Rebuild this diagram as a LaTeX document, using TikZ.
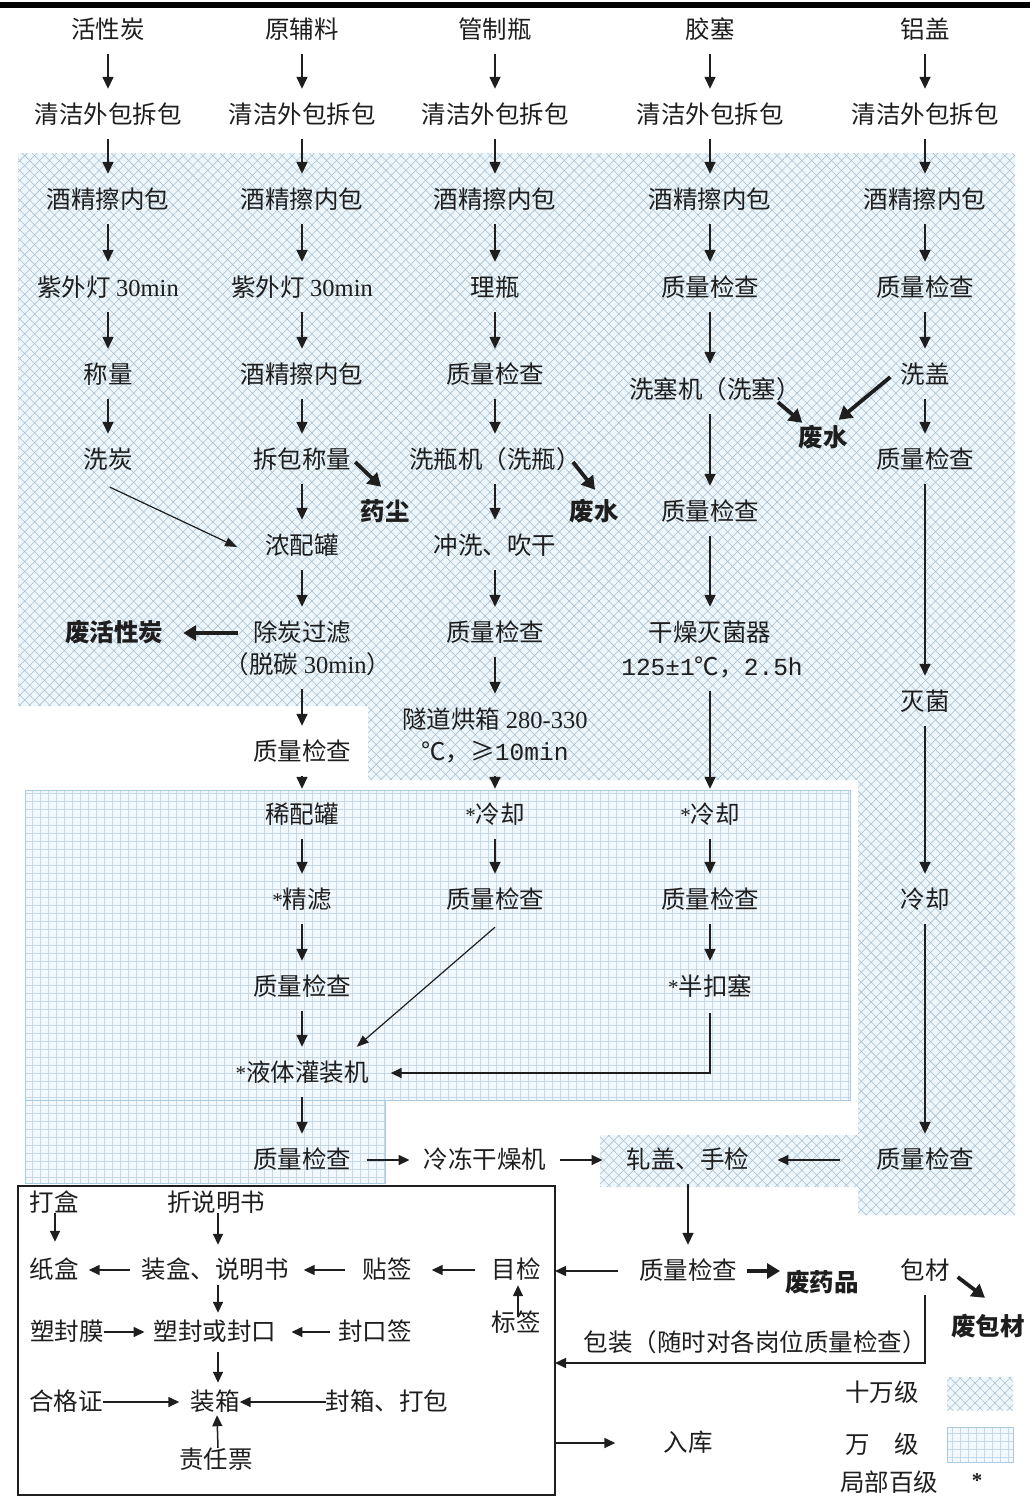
\documentclass[tikz,border=0pt]{standalone}
\usepackage{fontspec}
\setmainfont{Noto Sans CJK SC}
\newfontfamily\tnr{Liberation Serif}
\newfontfamily\mono{Liberation Mono}
\usetikzlibrary{arrows.meta,patterns.meta,calc}
\definecolor{hatchbg}{HTML}{EDF6FB}
\definecolor{hatchln}{HTML}{A9BECD}
\definecolor{gridbg}{HTML}{F3F8FC}
\definecolor{gridln}{HTML}{C4D8E8}
\definecolor{gridbd}{HTML}{A9CBE2}
\definecolor{ink}{HTML}{1E1E1E}
\newcommand\mystar{\raisebox{1pt}{\tnr\fontsize{21}{21}\selectfont *}}
\begin{document}
\begin{tikzpicture}[x=1pt,y=-1pt,
  every node/.style={inner sep=0pt, text height=20pt, text depth=4pt, text=ink,
    font=\fontsize{24.5}{28}\selectfont},
  wn/.style={font=\fontsize{24.5}{28}\selectfont\bfseries},
  va/.style={draw=ink, line width=1.5pt, -{Triangle[length=12pt,width=11pt]}, shorten <=12pt, shorten >=14pt},
  ar/.style={draw=ink, line width=1.5pt, -{Triangle[length=11pt,width=10pt]}},
  tk/.style={draw=ink, line width=3.8pt, -{Triangle[length=13pt,width=15pt]}},
  tn/.style={draw=ink, line width=1.2pt, -{Triangle[length=12pt,width=9pt]}},
  hatch/.style={fill=hatchbg,
    postaction={pattern={Lines[angle=45,distance=7pt,line width=0.55pt]}, pattern color=hatchln},
    postaction={pattern={Lines[angle=-45,distance=7pt,line width=0.55pt]}, pattern color=hatchln}},
  gridf/.style={fill=gridbg,
    postaction={pattern={Lines[angle=0,distance=8pt,line width=0.5pt]}, pattern color=gridln},
    postaction={pattern={Lines[angle=90,distance=8pt,line width=0.5pt]}, pattern color=gridln}},
]
\useasboundingbox (0,0) rectangle (1030,1497);
\fill[white] (0,0) rectangle (1030,1497);
\fill[black] (0,2) rectangle (1030,8);

% regions
\path[hatch] (18,153) rectangle (1015,706) (368,700) rectangle (860,780)
  (858,700) rectangle (1015,1215) (600,1135) rectangle (860,1187);
\path[gridf] (25,790) rectangle (850,1100) (25,1100) rectangle (385,1183);
\draw[gridbd, line width=1pt] (25,790) rectangle (850,1100);
\draw[gridbd, line width=1pt] (25,1100) rectangle (385,1183);

% column 1
\node (a0) at (108,30) {活性炭};
\node (a1) at (108,115) {清洁外包拆包};
\node (a2) at (108,200) {酒精擦内包};
\node (a3) at (108,288) {紫外灯 {\tnr 30min}};
\node (a4) at (108,375) {称量};
\node (a5) at (108,460) {洗炭};
\draw[va] (a0) -- (a1);
\draw[va] (a1) -- (a2);
\draw[va] (a2) -- (a3);
\draw[va] (a3) -- (a4);
\draw[va] (a4) -- (a5);

% column 2
\node (b0) at (302,30) {原辅料};
\node (b1) at (302,115) {清洁外包拆包};
\node (b2) at (302,200) {酒精擦内包};
\node (b3) at (302,288) {紫外灯 {\tnr 30min}};
\node (b4) at (302,375) {酒精擦内包};
\node (b5) at (302,460) {拆包称量};
\node (b6) at (302,546) {浓配罐};
\node (b7) at (302,633) {除炭过滤};
\node (b7x) at (308,665) {（脱碳 {\tnr 30min}）};
\node (b8) at (302,752) {质量检查};
\node (b9) at (302,815) {稀配罐};
\node (b10) at (302,900) {\mystar 精滤};
\node (b11) at (302,987) {质量检查};
\node (b12) at (302,1073) {\mystar 液体灌装机};
\node (b13) at (302,1160) {质量检查};
\node[wn] (yc) at (385,512) {药尘};
\node[wn] (fh) at (114,633) {废活性炭};
\draw[va] (b0) -- (b1);
\draw[va] (b1) -- (b2);
\draw[va] (b2) -- (b3);
\draw[va] (b3) -- (b4);
\draw[va] (b4) -- (b5);
\draw[va] (b5) -- (b6);
\draw[va] (b6) -- (b7);
\draw[va] (b8 |- b7x.south) -- (b8.north);
\draw[va] (b8) -- (b9);
\draw[va] (b9) -- (b10);
\draw[va] (b10) -- (b11);
\draw[va] (b11) -- (b12);
\draw[va] (b12) -- (b13);
\draw[tk] ($(b5.east)+(4,2)$) -- ($(yc.north)+(-4,-13)$);
\draw[tk] ($(b7.west)+(-15,0)$) -- ($(fh.east)+(20,0)$);
\draw[tn] ($(a5.south)+(2,15)$) -- ($(b6.west)+(-28,1)$);

% column 3
\node (c0) at (495,30) {管制瓶};
\node (c1) at (495,115) {清洁外包拆包};
\node (c2) at (495,200) {酒精擦内包};
\node (c3) at (495,288) {理瓶};
\node (c4) at (495,375) {质量检查};
\node (c5) at (495,460) {洗瓶机（洗瓶）};
\node (c6) at (495,546) {冲洗、吹干};
\node (c7) at (495,633) {质量检查};
\node (c8) at (495,720) {隧道烘箱 {\tnr 280-330}};
\node (c8x) at (495,752) {℃，≥{\mono 10min}};
\node (c9) at (495,815) {\mystar 冷却};
\node (c10) at (495,900) {质量检查};
\node[wn] (fs1) at (594,512) {废水};
\draw[va] (c0) -- (c1);
\draw[va] (c1) -- (c2);
\draw[va] (c2) -- (c3);
\draw[va] (c3) -- (c4);
\draw[va] (c4) -- (c5);
\draw[va] (c5) -- (c6);
\draw[va] (c6) -- (c7);
\draw[va] (c7) -- (c8);
\draw[va] (c8x) -- (c9);
\draw[va] (c9) -- (c10);
\draw[tk] ($(c5.east)+(-8,2)$) -- ($(fs1.north)+(1,-10)$);
\draw[tn] ($(c10.south)+(0,15)$) -- ($(b12.north east)+(-12,-14)$);

% column 4
\node (d0) at (710,30) {胶塞};
\node (d1) at (710,115) {清洁外包拆包};
\node (d2) at (710,200) {酒精擦内包};
\node (d3) at (710,288) {质量检查};
\node (d4) at (715,390) {洗塞机（洗塞）};
\node (d5) at (710,512) {质量检查};
\node (d6) at (710,633) {干燥灭菌器};
\node (d6x) at (712,667) {{\mono 125±1}℃，{\mono 2.5h}};
\node (d7) at (710,815) {\mystar 冷却};
\node (d8) at (710,900) {质量检查};
\node (d9) at (710,987) {\mystar 半扣塞};
\node[wn] (fs2) at (823,438) {废水};
\draw[va] (d0) -- (d1);
\draw[va] (d1) -- (d2);
\draw[va] (d2) -- (d3);
\draw[va] (d3.south) -- (d3.south |- d4.north);
\draw[va] (d5 |- d4.south) -- (d5.north);
\draw[va] (d5) -- (d6);
\draw[va] (d7 |- d6x.south) -- (d7.north);
\draw[va] (d7) -- (d8);
\draw[va] (d8) -- (d9);
\draw[ar] ($(d9.south)+(0,14)$) |- ($(b12.east)+(22,0)$);
\draw[tk] ($(d4.south east)+(-23,0)$) -- ($(fs2.north west)+(4,-3)$);

% column 5
\node (e0) at (925,30) {铝盖};
\node (e1) at (925,115) {清洁外包拆包};
\node (e2) at (925,200) {酒精擦内包};
\node (e3) at (925,288) {质量检查};
\node (e4) at (925,375) {洗盖};
\node (e5) at (925,460) {质量检查};
\node (e6) at (925,702) {灭菌};
\node (e7) at (925,900) {冷却};
\node (e8) at (925,1160) {质量检查};
\draw[va] (e0) -- (e1);
\draw[va] (e1) -- (e2);
\draw[va] (e2) -- (e3);
\draw[va] (e3) -- (e4);
\draw[va] (e4) -- (e5);
\draw[va] (e5) -- (e6);
\draw[va] (e6) -- (e7);
\draw[va] (e7) -- (e8);
\draw[tk] ($(e4.west)+(-10,2)$) -- ($(fs2.north east)+(-9,-6)$);

% bottom row
\node (f1) at (485,1160) {冷冻干燥机};
\node (f2) at (688,1160) {轧盖、手检};
\draw[ar] ($(b13.east)+(16,0)$) -- ($(f1.west)+(-14,0)$);
\draw[ar] ($(f1.east)+(14,0)$) -- ($(f2.west)+(-24,0)$);
\draw[ar] ($(e8.west)+(-36,0)$) -- ($(f2.east)+(28,0)$);

\node (g1) at (688,1271) {质量检查};
\node[wn] (wy) at (822,1283) {废药品};
\node (bc) at (925,1271) {包材};
\node[wn] (wb) at (988,1327) {废包材};
\node (bz) at (755,1343) {包装（随时对各岗位质量检查）};
\node (rk) at (688,1443) {入库};
\draw[va] (f2) -- (g1);
\draw[tk] ($(g1.east)+(10,0)$) -- ($(wy.west |- g1.east)+(-5,0)$);
\draw[tk] ($(bc.east)+(8,6)$) -- ($(wb.north)+(-3,-17)$);

% packaging box
\draw[ink, line width=1.5pt] (18,1186) rectangle (555,1495);
\coordinate (bx1) at (555,1271);
\coordinate (bx2) at (555,1363);
\coordinate (bx3) at (555,1443);
\draw[ar] ($(g1.west)+(-21,0)$) -- (bx1);
\draw[ar] ($(bc.south)+(0,12)$) |- (bx2);
\draw[ar] (bx3) -- ($(rk.west)+(-48,0)$);

\node (dh) at (54,1203) {打盒};
\node (zs) at (216,1203) {折说明书};
\node (zh) at (54,1270) {纸盒};
\node (zhs) at (215,1270) {装盒、说明书};
\node (tq) at (387,1270) {贴签};
\node (mj) at (516,1270) {目检};
\node (sfm) at (67,1332) {塑封膜};
\node (sfk) at (215,1332) {塑封或封口};
\node (fkq) at (375,1332) {封口签};
\node (bq) at (516,1323) {标签};
\node (hgz) at (66,1402) {合格证};
\node (zx) at (215,1402) {装箱};
\node (fx) at (387,1402) {封箱、打包};
\node (zrp) at (216,1460) {责任票};
\draw[ar] ($(dh.south)+(1,-2)$) -- ($(zh.north)+(1,-16)$);
\draw[ar] ($(zs.south)+(2,-2)$) -- ($(zhs.north)+(3,-13)$);
\draw[ar] ($(zhs.south)+(3,3)$) -- ($(sfk.north)+(3,-7)$);
\draw[ar] ($(sfk.south)+(3,8)$) -- ($(zx.north)+(3,-7)$);
\draw[ar] ($(zrp.north)+(2,0)$) -- ($(zx.south)+(2,1)$);
\draw[ar] ($(zhs.west)+(-11,0)$) -- ($(zh.east)+(10,0)$);
\draw[ar] ($(tq.west)+(-17,0)$) -- ($(zhs.east)+(15,0)$);
\draw[ar] ($(mj.west)+(-16,0)$) -- ($(tq.east)+(20,0)$);
\draw[ar] ($(bq.north)+(2,6)$) -- ($(mj.south)+(2,3)$);
\draw[ar] (sfm.east) -- ($(sfk.west)+(-9,0)$);
\draw[ar] ($(fkq.west)+(-8,0)$) -- ($(sfk.east)+(15,0)$);
\draw[ar] (hgz.east) -- ($(zx.west)+(-11,0)$);
\draw[ar] (fx.west) -- (zx.east);

% legend
\node (lg1) at (882,1393) {十万级};
\node (lg2) at (882,1445) {万\hspace{24.5pt}级};
\node (lg3) at (889,1483) {局部百级};
\path[hatch] (947,1377) rectangle (1013,1410);
\path[gridf] (947,1427) rectangle (1013,1462);
\draw[gridbd, line width=1pt] (947,1427) rectangle (1013,1462);
\node[font=\tnr\fontsize{21}{21}\selectfont\bfseries] (lg4) at (977,1479) {*};
\end{tikzpicture}
\end{document}
